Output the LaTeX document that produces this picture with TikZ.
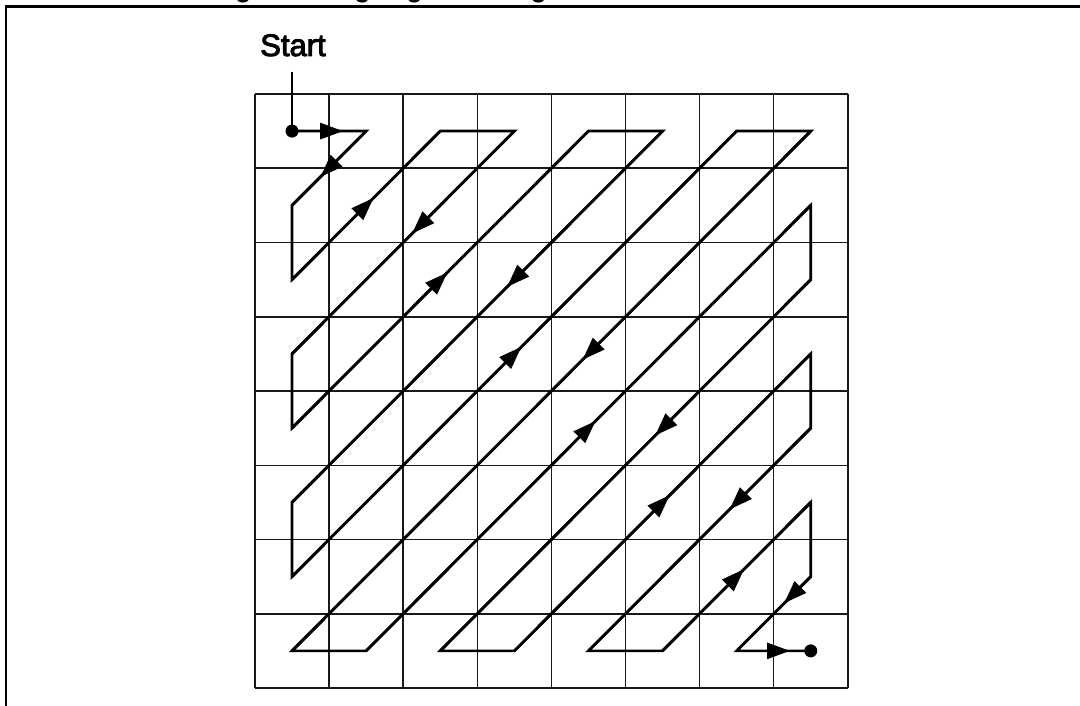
\documentclass[tikz,border=0pt]{standalone}
\usepackage{fontspec}
\setmainfont{Liberation Sans}
\newfontfamily\labelfont{Liberation Sans}[FakeBold=3]
\usetikzlibrary{arrows.meta,decorations.markings}
\begin{document}
\begin{tikzpicture}[x=1pt,y=-1pt,
  gridline/.style={line width=1.5pt, black!90},
  zz/.style={line width=2.7pt, line join=miter, line cap=butt},
  arr/.style={postaction={decorate,decoration={markings,mark=at position #1 with {\arrow{Triangle[length=23pt,width=16pt]}}}}},
  dot/.style={circle, fill, inner sep=0pt, minimum size=13pt},
  frameline/.style={line width=2.2pt, line join=miter}]
\useasboundingbox (0,0) rectangle (1080,706);

% cut-off caption above the frame
\node[font=\fontsize{26}{30}\selectfont\bfseries, anchor=base west, inner sep=0pt] (title) at (212,-2.5) {Figure 5: Zig-zag Scanning Pattern};

% frame
\draw[frameline] (6,706) -- (6,6.5) -- (1080,6.5);

% grid
\foreach \i in {0,...,8} {
  \draw[gridline] ({255+74.1*\i},94) -- ({255+74.1*\i},688);
  \draw[gridline] (255,{94+74.25*\i}) -- (847.8,{94+74.25*\i});
}

% cell centres
\foreach \i in {0,...,7} {
  \foreach \j in {0,...,7} {
    \coordinate (c-\i-\j) at ({292.05+74.1*\i},{131.1+74.25*\j});
  }
}

% label
\node[font=\fontsize{31}{36}\selectfont\labelfont, anchor=base, inner sep=0pt] (start) at (293,56) {Start};
\draw[zz, shorten <=15pt] (c-0-0 |- start.south) -- (c-0-0);

% zigzag path
\draw[zz] (c-0-0) -- (c-1-0) -- (c-0-1) -- (c-0-2) -- (c-2-0) -- (c-3-0) -- (c-0-3)
  -- (c-0-4) -- (c-4-0) -- (c-5-0) -- (c-0-5) -- (c-0-6) -- (c-6-0) -- (c-7-0)
  -- (c-0-7) -- (c-1-7) -- (c-7-1) -- (c-7-2) -- (c-2-7) -- (c-3-7) -- (c-7-3)
  -- (c-7-4) -- (c-4-7) -- (c-5-7) -- (c-7-5) -- (c-7-6) -- (c-6-7) -- (c-7-7);

% arrowheads
\draw[zz, arr=0.69] (c-0-0) -- (c-1-0);
\draw[zz, arr=0.62] (c-1-0) -- (c-0-1);
\draw[zz, arr=0.55] (c-0-2) -- (c-2-0);
\draw[zz, arr=0.46] (c-3-0) -- (c-0-3);
\draw[zz, arr=0.524] (c-0-4) -- (c-4-0);
\draw[zz, arr=0.42] (c-5-0) -- (c-0-5);
\draw[zz, arr=0.516] (c-0-6) -- (c-6-0);
\draw[zz, arr=0.44] (c-7-0) -- (c-0-7);
\draw[zz, arr=0.516] (c-1-7) -- (c-7-1);
\draw[zz, arr=0.42] (c-7-2) -- (c-2-7);
\draw[zz, arr=0.524] (c-3-7) -- (c-7-3);
\draw[zz, arr=0.365] (c-7-4) -- (c-4-7);
\draw[zz, arr=0.55] (c-5-7) -- (c-7-5);
\draw[zz, arr=0.36] (c-7-6) -- (c-6-7);
\draw[zz, arr=0.72] (c-6-7) -- (c-7-7);

% dots
\node[dot] (startdot) at (c-0-0) {};
\node[dot] (enddot) at (c-7-7) {};
\end{tikzpicture}
\end{document}
